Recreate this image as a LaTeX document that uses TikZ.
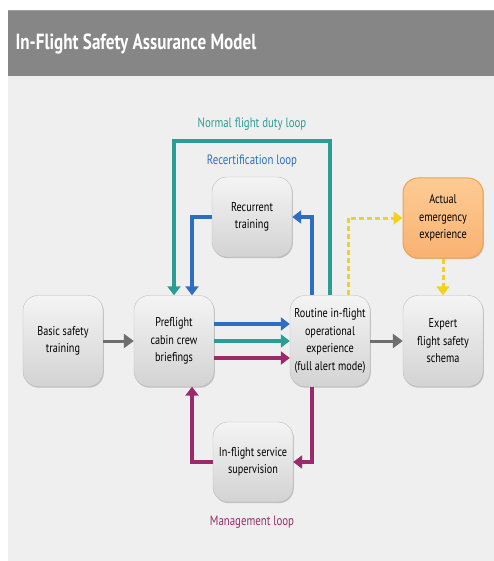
\documentclass[tikz,border=0pt]{standalone}
\usepackage{fontspec}
\setmainfont{PT Sans}[FakeStretch=0.8]
\newfontfamily\titlefont{PT Sans}[FakeStretch=0.78]
\usetikzlibrary{arrows.meta,shadows,positioning}
\definecolor{panelbg}{HTML}{EFEFEF}
\definecolor{headbg}{HTML}{868686}
\definecolor{loopteal}{HTML}{2A9D94}
\definecolor{loopblue}{HTML}{2E6EC2}
\definecolor{loopplum}{HTML}{9A2A6A}
\definecolor{dashyellow}{HTML}{F2D21E}
\definecolor{flowgray}{HTML}{6E6E6E}
\definecolor{boxtop}{HTML}{F4F4F4}
\definecolor{boxbot}{HTML}{D3D3D3}
\definecolor{emtop}{HTML}{FDCB94}
\definecolor{embot}{HTML}{F9B272}
\definecolor{emline}{HTML}{F0A24E}
\tikzset{
  stage/.style={rectangle, rounded corners=15bp, minimum width=80bp, minimum height=91bp,
    top color=boxtop, bottom color=boxbot, draw=boxbot!90!black, line width=0.4bp,
    drop shadow={shadow xshift=0.8bp, shadow yshift=-1.2bp, opacity=0.35, fill=black!60},
    align=center, font=\fontsize{12.8}{17.5}\selectfont, text=black},
  smallstage/.style={stage, minimum height=80bp},
  emstage/.style={smallstage, top color=emtop, bottom color=embot, draw=emline, line width=1bp},
  loopline/.style={line width=3.2bp, -{Triangle[length=9bp,width=13bp]}},
  flow/.style={line width=3bp, flowgray, -{Triangle[length=10bp,width=14bp]}},
  dashflow/.style={line width=3bp, dashyellow, dash pattern=on 5bp off 3bp, -{Triangle[length=9bp,width=13bp]}},
  looplabel/.style={font=\fontsize{13.6}{15}\selectfont},
}
\begin{document}
\begin{tikzpicture}[x=1bp, y=-1bp]
  % canvas
  \useasboundingbox (0,0) rectangle (494,561);
  \fill[white] (0,0) rectangle (494,561);
  \fill[panelbg] (8,10) rectangle (494,561);
  \fill[headbg] (8,10) rectangle (494,76);
  \fill[headbg!80!white] (8,10) rectangle (494,11.2);
  \node[anchor=west, text=white, font=\titlefont\bfseries\fontsize{22}{25}\selectfont] (title) at (12,44) {In-Flight Safety Assurance Model};

  % stages
  \node[stage] (basic) at (63,341) {Basic safety\\training};
  \node[stage] (pre) at (174,341) {Preflight\\cabin crew\\briefings};
  \node[stage] (routine) at (330,341) {Routine in-flight\\operational\\experience\\(full alert mode)};
  \node[stage] (expert) at (443,341) {Expert\\flight safety\\schema};
  \node[smallstage] (recur) at (252,217) {Recurrent\\training};
  \node[emstage] (actual) at (443,218) {Actual\\emergency\\experience};
  \node[smallstage] (superv) at (253,462) {In-flight service\\supervision};

  % loop labels
  \node[looplabel, text=loopteal] (lnormal) at (252,124) {Normal flight duty loop};
  \node[looplabel, text=loopblue] (lrecert) at (252,161) {Recertification loop};
  \node[looplabel, text=loopplum] (lmgmt) at (252,522) {Management loop};

  % main flow
  \draw[flow] (basic.east) -- (pre.west);
  \draw[flow] (routine.east) -- (expert.west);

  % normal flight duty loop
  \draw[loopline, loopteal] (routine.north -| 330,0) -- (330,141) -- (174,141) -- (pre.north);
  % recertification loop
  \draw[loopline, loopblue] (routine.north -| 312,0) |- (recur.east);
  \draw[loopline, loopblue] (recur.west) -| (pre.north -| 192,0);
  % management loop
  \draw[loopline, loopplum] (routine.south -| 312,0) |- (superv.east);
  \draw[loopline, loopplum] (superv.west) -| (pre.south -| 192,0);

  % briefings into operations
  \draw[loopline, loopblue] (pre.east |- 0,324) -- (routine.west |- 0,324);
  \draw[loopline, loopteal] (pre.east |- 0,341) -- (routine.west |- 0,341);
  \draw[loopline, loopplum] (pre.east |- 0,358) -- (routine.west |- 0,358);

  % emergency path
  \draw[dashflow] (routine.north -| 348,0) |- (actual.west);
  \draw[dashflow] (actual.south) -- (expert.north);
\end{tikzpicture}
\end{document}
